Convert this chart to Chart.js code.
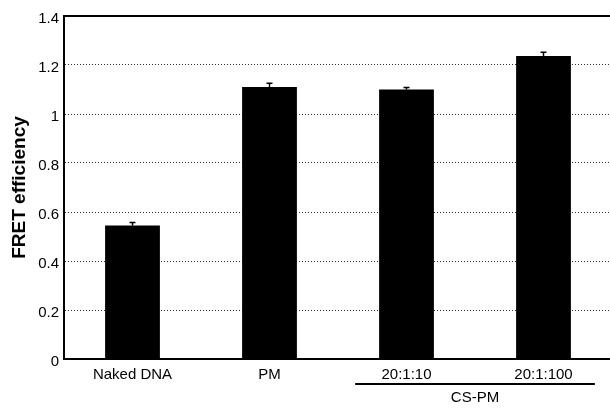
<!DOCTYPE html>
<html>
<head>
<meta charset="utf-8">
<script src="https://cdn.jsdelivr.net/npm/chart.js@4/dist/chart.umd.min.js"></script>
<style>
  html, body { margin: 0; padding: 0; background: #fff; overflow: hidden; }
  #wrap { width: 612px; height: 410px; }
</style>
</head>
<body>
<div id="wrap"><canvas id="fret"></canvas></div>
<script>
var categories = ['Naked DNA', 'PM', '20:1:10', '20:1:100'];
var efficiency = [0.545, 1.11, 1.10, 1.237];
var errors = [0.012, 0.016, 0.008, 0.015];
var yTicks = [0, 0.2, 0.4, 0.6, 0.8, 1, 1.2, 1.4];
var groupLabel = 'CS-PM';
var groupFrom = 2, groupTo = 3;

var fontFamily = '"Liberation Sans", Arial, Helvetica, sans-serif';

// error bars, top whisker only (bottom half is hidden by the black bar)
var errorBars = {
    id: 'errorBars',
    afterDatasetsDraw(chart) {
        var ctx = chart.ctx;
        var y = chart.scales.y;
        var meta = chart.getDatasetMeta(0);
        ctx.save();
        ctx.strokeStyle = '#000';
        ctx.lineWidth = 1.5;
        meta.data.forEach(function (bar, i) {
            var top = y.getPixelForValue(efficiency[i] + errors[i]);
            ctx.beginPath();
            ctx.moveTo(bar.x, bar.y);
            ctx.lineTo(bar.x, top);
            ctx.moveTo(bar.x - 3, top);
            ctx.lineTo(bar.x + 3, top);
            ctx.stroke();
        });
        ctx.restore();
    }
};

// solid top frame line + group bracket under the last two categories
var frameAndGroup = {
    id: 'frameAndGroup',
    afterDraw(chart) {
        var ctx = chart.ctx;
        var area = chart.chartArea;
        var x = chart.scales.x;
        ctx.save();
        ctx.strokeStyle = '#000';
        ctx.lineWidth = 2;
        ctx.beginPath();
        ctx.moveTo(area.left, area.top);
        ctx.lineTo(area.right, area.top);
        ctx.stroke();

        var step = x.getPixelForValue(1) - x.getPixelForValue(0);
        var x1 = x.getPixelForValue(groupFrom) - step * 0.375;
        var x2 = x.getPixelForValue(groupTo) + step * 0.375;
        var ly = area.bottom + 25;
        ctx.lineWidth = 1.8;
        ctx.beginPath();
        ctx.moveTo(x1, ly);
        ctx.lineTo(x2, ly);
        ctx.stroke();

        ctx.fillStyle = '#000';
        ctx.font = '15px ' + fontFamily;
        ctx.textAlign = 'center';
        ctx.textBaseline = 'middle';
        ctx.fillText(groupLabel, (x1 + x2) / 2, ly + 14);
        ctx.restore();
    }
};

new Chart(document.getElementById('fret'), {
    type: 'bar',
    data: {
        labels: categories,
        datasets: [{
            data: efficiency,
            backgroundColor: '#000',
            borderWidth: 0,
            categoryPercentage: 1,
            barPercentage: 0.4
        }]
    },
    options: {
        responsive: true,
        maintainAspectRatio: false,
        animation: false,
        layout: { padding: { top: 16, left: 0, right: 0, bottom: 0 } },
        plugins: { legend: { display: false }, tooltip: { enabled: false } },
        scales: {
            x: {
                grid: { display: false, drawTicks: false },
                border: { display: true, color: '#000', width: 2 },
                ticks: {
                    color: '#000',
                    padding: 7,
                    font: { family: fontFamily, size: 15 }
                },
                afterFit: function (scale) { scale.height = 51; }
            },
            y: {
                min: 0,
                max: 1.4,
                afterBuildTicks: function (scale) {
                    scale.ticks = yTicks.map(function (v) { return { value: v }; });
                },
                grid: { color: '#333', lineWidth: 1, drawTicks: false },
                border: { display: true, color: '#000', width: 2, dash: [1, 2] },
                ticks: {
                    color: '#000',
                    padding: 5,
                    labelOffset: 3,
                    font: { family: fontFamily, size: 15 },
                    callback: function (v) { return String(v); }
                },
                title: {
                    display: true,
                    text: 'FRET efficiency',
                    color: '#000',
                    padding: { top: 8, bottom: 0 },
                    font: { family: fontFamily, size: 19, weight: 'bold' }
                },
                afterFit: function (scale) { scale.width = 64; }
            }
        }
    },
    plugins: [errorBars, frameAndGroup]
});
</script>
</body>
</html>
